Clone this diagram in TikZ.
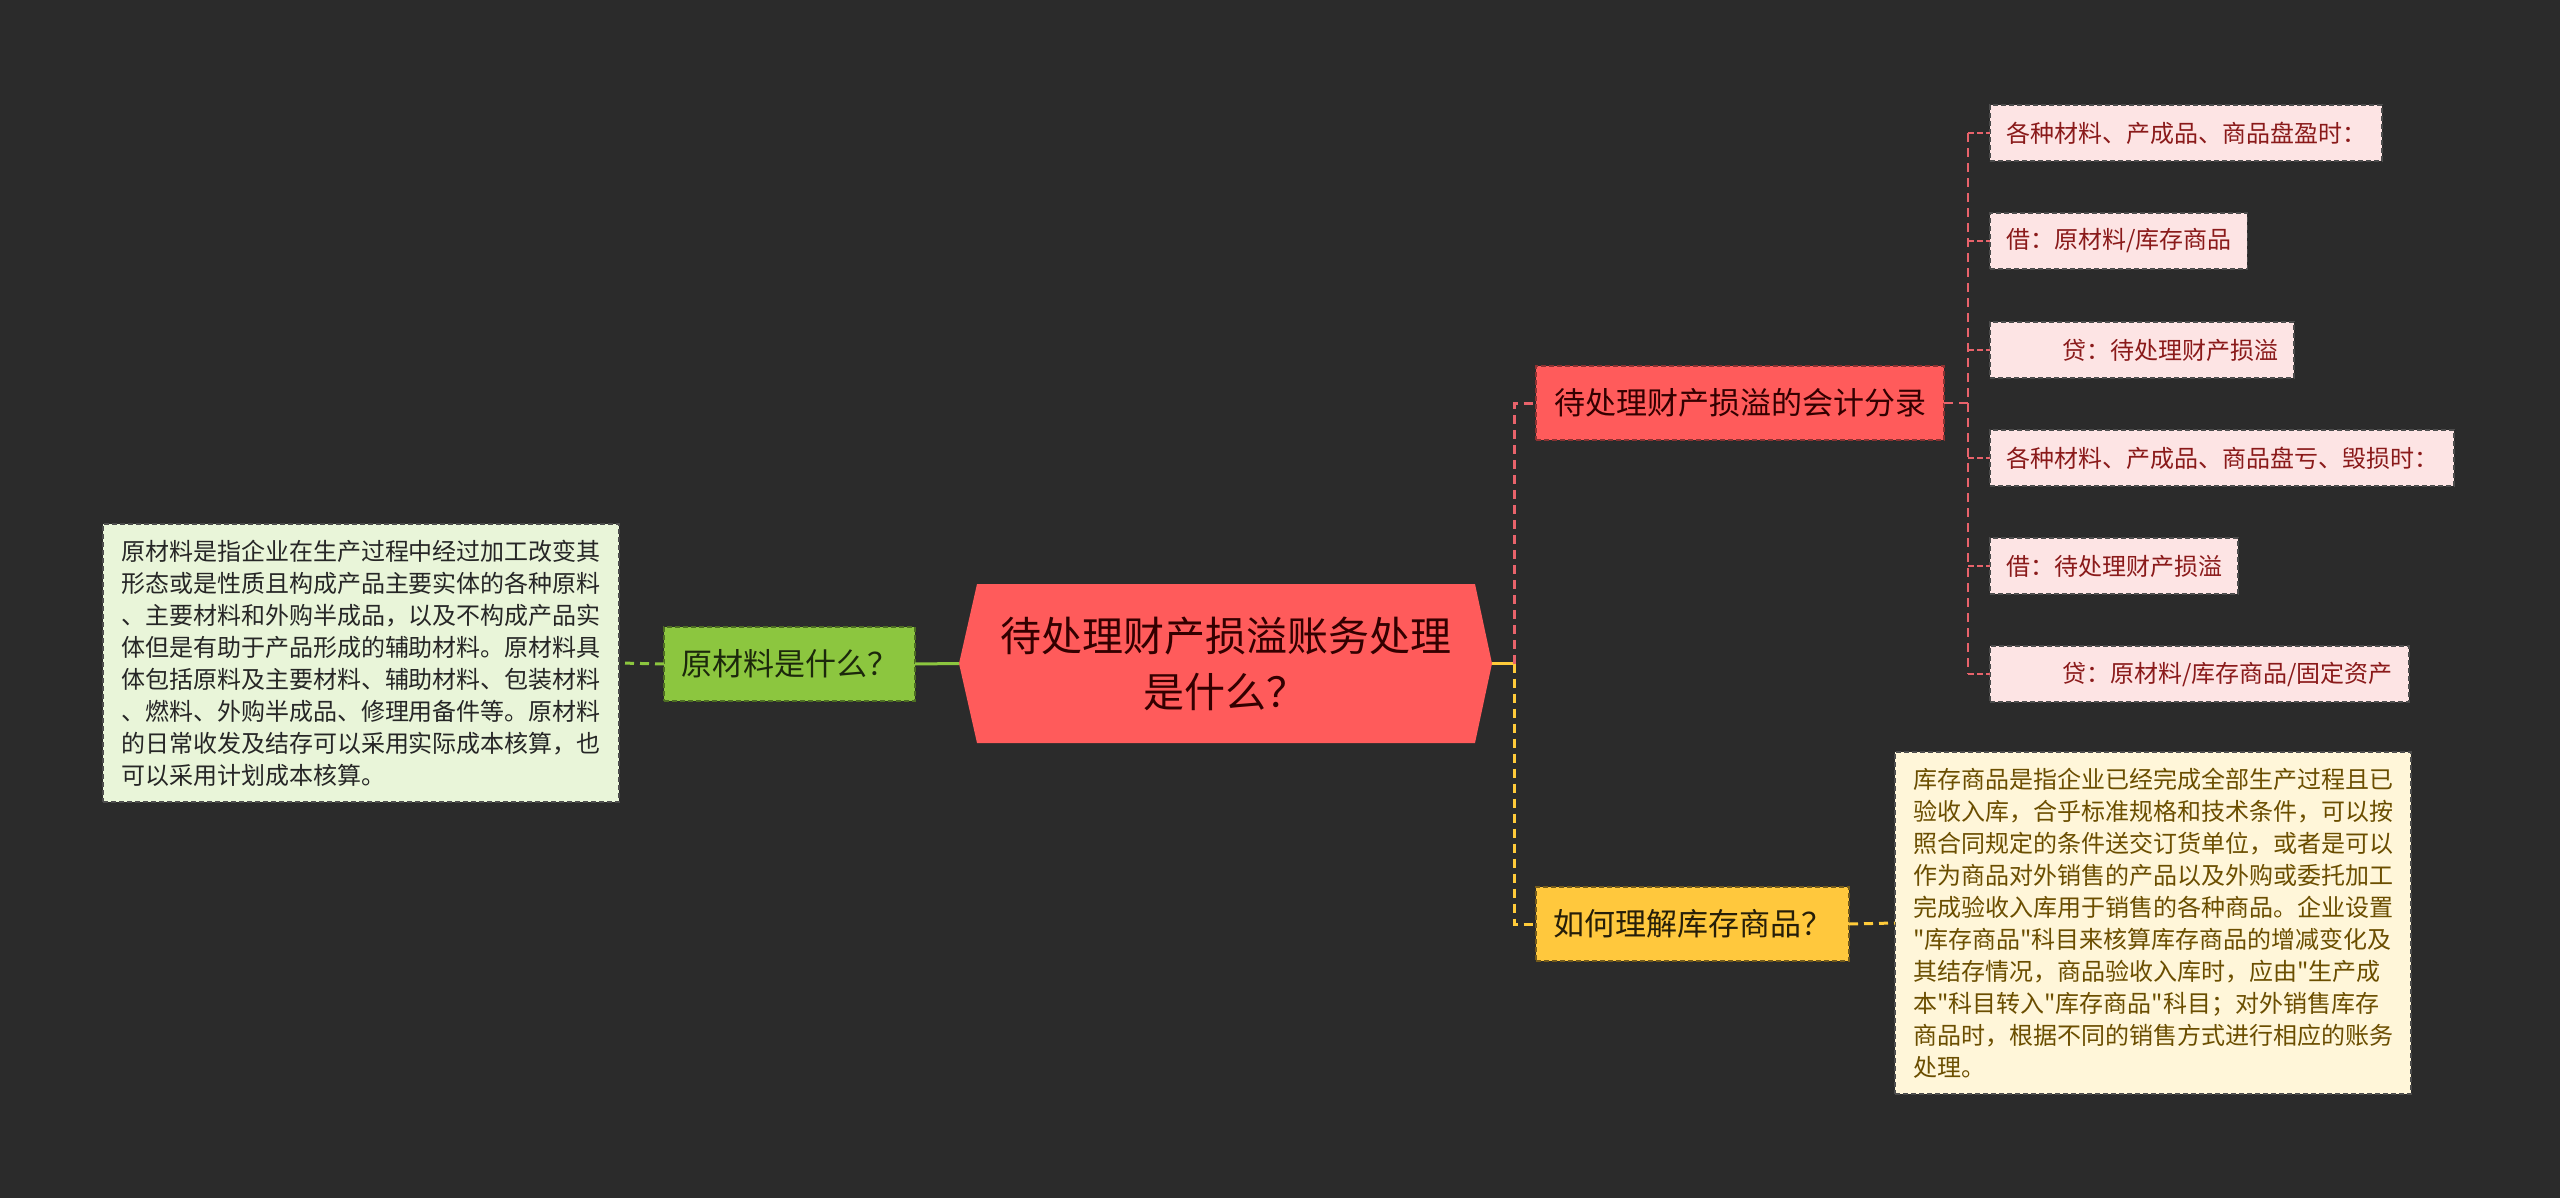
\documentclass[tikz,border=0pt]{standalone}
\usepackage{fontspec}
\newfontfamily\cjk{Noto Sans CJK SC}
\definecolor{bg}{HTML}{2B2B2B}
\definecolor{cred}{HTML}{FF5B5B}
\definecolor{cgreen}{HTML}{8CC63F}
\definecolor{cyellow}{HTML}{FFC83D}
\definecolor{lgreen}{HTML}{E9F5D9}
\definecolor{cream}{HTML}{FFF6D9}
\definecolor{lpink}{HTML}{FDE4E4}
\definecolor{leaftext}{HTML}{8A1A1A}
\definecolor{creamtext}{HTML}{6B4E00}
\definecolor{linkred}{HTML}{E8636B}
\definecolor{linkyel}{HTML}{FFCB3A}
\definecolor{linkgreen}{HTML}{8CC63F}
\begin{document}
\begin{tikzpicture}[x=1pt,y=-1pt,
  every node/.style={font=\cjk},
  box/.style={draw, line width=1.4pt, dash pattern=on 5pt off 3pt, outer sep=0pt},
  lvlone/.style={box, minimum height=74pt, inner ysep=0pt},
  leafbox/.style={box, fill=lpink, draw=black!70, text=leaftext, minimum height=56pt,
    inner ysep=0pt, inner xsep=16pt, anchor=west, font=\cjk\fontsize{24pt}{30pt}\selectfont},
  para/.style={box, anchor=north west, align=left, inner ysep=11pt,
    font=\cjk\fontsize{24pt}{32pt}\selectfont},
  link/.style={line width=3pt, dash pattern=on 9pt off 6pt},
  thinlink/.style={line width=2.5pt, dash pattern=on 9pt off 6pt, draw=linkred}
]
\fill[bg] (0,0) rectangle (2560,1198);
\useasboundingbox (0,0) rectangle (2560,1198);

% central hexagon
\fill[cred] (959,663.5) -- (977,584) -- (1475,584) -- (1492,663.5) -- (1475,743) -- (977,743) -- cycle;
\node[minimum width=533pt, minimum height=159pt, inner sep=0pt, outer sep=0pt, align=center,
  text=black!80!red, font=\cjk\fontsize{41pt}{56pt}\selectfont] (central) at (1225.5,663.5)
  {待处理财产损溢账务处理\\是什么？};

% left side
\node[lvlone, fill=cgreen, draw=black!45!cgreen, text=black!80!cgreen, anchor=east, inner xsep=17pt,
  font=\cjk\fontsize{31pt}{36pt}\selectfont] (gn) at (915,664) {原材料是什么？};
\node[para, fill=lgreen, draw=black!70, text=black!85, text width=480pt, inner xsep=18pt,
  minimum height=278pt] (lt) at (103,524)
  {原材料是指企业在生产过程中经过加工改变其\\
   形态或是性质且构成产品主要实体的各种原料\\
   、主要材料和外购半成品，以及不构成产品实\\
   体但是有助于产品形成的辅助材料。原材料具\\
   体包括原料及主要材料、辅助材料、包装材料\\
   、燃料、外购半成品、修理用备件等。原材料\\
   的日常收发及结存可以采用实际成本核算，也\\
   可以采用计划成本核算。};

% right first level
\node[lvlone, fill=cred, draw=black!45!cred, text=black!80!red, anchor=west, inner xsep=18pt,
  font=\cjk\fontsize{31pt}{36pt}\selectfont] (n1) at (1536,403) {待处理财产损溢的会计分录};
\node[lvlone, fill=cyellow, draw=black!55!cyellow, text=black!85!cyellow, anchor=west, inner xsep=17pt,
  font=\cjk\fontsize{31pt}{36pt}\selectfont] (n2) at (1536,924) {如何理解库存商品？};

% right text box
\node[para, fill=cream, draw=black!70, text=creamtext, text width=480pt, inner xsep=18pt,
  minimum height=342pt] (rt) at (1895,752)
  {库存商品是指企业已经完成全部生产过程且已\\
   验收入库，合乎标准规格和技术条件，可以按\\
   照合同规定的条件送交订货单位，或者是可以\\
   作为商品对外销售的产品以及外购或委托加工\\
   完成验收入库用于销售的各种商品。企业设置\\
   "库存商品"科目来核算库存商品的增减变化及\\
   其结存情况，商品验收入库时，应由"生产成\\
   本"科目转入"库存商品"科目；对外销售库存\\
   商品时，根据不同的销售方式进行相应的账务\\
   处理。};

% leaves
\node[leafbox] (l1) at (1990,133) {各种材料、产成品、商品盘盈时：};
\node[leafbox] (l2) at (1990,241) {借：原材料/库存商品};
\node[leafbox] (l3) at (1990,350) {\hspace*{56pt}贷：待处理财产损溢};
\node[leafbox] (l4) at (1990,458) {各种材料、产成品、商品盘亏、毁损时：};
\node[leafbox] (l5) at (1990,566) {借：待处理财产损溢};
\node[leafbox] (l6) at (1990,674) {\hspace*{56pt}贷：原材料/库存商品/固定资产};

% main connectors
\coordinate (j) at (1514,663.5);
\draw[line width=3pt, draw=linkyel] (central.east) -- (j);
\draw[link, draw=linkred] (j) -- (j|-n1.west) -- (n1.west);
\draw[link, draw=linkyel] (j) -- (j|-n2.west) -- (n2.west);
\draw[line width=3pt, draw=linkgreen] (central.west) -- (gn.east);
\draw[link, draw=linkgreen] (gn.west) -- (lt.east);
\draw[link, draw=linkyel] (n2.east) -- (rt.west);

% leaf connectors
\coordinate (k) at (1968,403);
\draw[thinlink] (n1.east) -- (k);
\draw[thinlink] (k|-l1.west) -- (k|-l6.west);
\foreach \i in {1,...,6}{
  \draw[thinlink, dash pattern=on 6pt off 3pt] (k|-l\i.west) -- (l\i.west);
}
\end{tikzpicture}
\end{document}
